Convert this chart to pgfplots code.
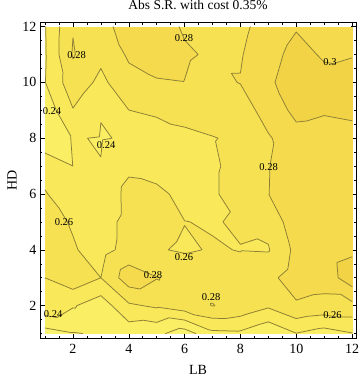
\documentclass[border=0pt]{standalone}
\usepackage{fontspec}
\setmainfont{Liberation Serif}
\usepackage{pgfplots}
\usepackage{pgfplotstable}
\pgfplotsset{compat=1.18}

% grid values: LB (x) 1..12, HD (y) 1..12
\pgfplotstableread{
x y z
1 1 0.2111
2 1 0.2190
3 1 0.2219
4 1 0.2278
5 1 0.2246
6 1 0.2100
7 1 0.2350
8 1 0.2362
9 1 0.2232
10 1 0.2395
11 1 0.2315
12 1 0.2390
1 2 0.2556
2 2 0.2418
3 2 0.2288
4 2 0.2569
5 2 0.2631
6 2 0.2720
7 2 0.2805
8 2 0.2746
9 2 0.2632
10 2 0.2777
11 2 0.2740
12 2 0.2745
1 3 0.2601
2 3 0.2730
3 3 0.2600
4 3 0.2914
5 3 0.2808
6 3 0.2740
7 3 0.2750
8 3 0.2658
9 3 0.2750
10 3 0.2893
11 3 0.2880
12 3 0.3120
1 4 0.2650
2 4 0.2615
3 4 0.2532
4 4 0.2665
5 4 0.2614
6 4 0.2580
7 4 0.2612
8 4 0.2595
9 4 0.2587
10 4 0.2853
11 4 0.2900
12 4 0.2960
1 5 0.2660
2 5 0.2585
3 5 0.2510
4 5 0.2665
5 5 0.2650
6 5 0.2603
7 5 0.2588
8 5 0.2620
9 5 0.2652
10 5 0.2931
11 5 0.2910
12 5 0.2930
1 6 0.2615
2 6 0.2465
3 6 0.2420
4 6 0.2670
5 6 0.2656
6 6 0.2532
7 6 0.2565
8 6 0.2717
9 6 0.2797
10 6 0.2900
11 6 0.2900
12 6 0.2920
1 7 0.2515
2 7 0.2401
3 7 0.2405
4 7 0.2555
5 7 0.2500
6 7 0.2540
7 7 0.2565
8 7 0.2682
9 7 0.2794
10 7 0.2900
11 7 0.2900
12 7 0.2910
1 8 0.2270
2 8 0.2411
3 8 0.2390
4 8 0.2415
5 8 0.2445
6 8 0.2547
7 8 0.2590
8 8 0.2640
9 8 0.2776
10 8 0.2945
11 8 0.2935
12 8 0.2950
1 9 0.2273
2 9 0.2590
3 9 0.2408
4 9 0.2598
5 9 0.2652
6 9 0.2680
7 9 0.2720
8 9 0.2674
9 9 0.2907
10 9 0.3040
11 9 0.3015
12 9 0.3030
1 10 0.2395
2 10 0.2720
3 10 0.2553
4 10 0.2737
5 10 0.2789
6 10 0.2798
7 10 0.2740
8 10 0.2808
9 10 0.2975
10 10 0.3080
11 10 0.3048
12 10 0.3037
1 11 0.2385
2 11 0.2815
3 11 0.2647
4 11 0.2827
5 11 0.2860
6 11 0.2816
7 11 0.2783
8 11 0.2784
9 11 0.2944
10 11 0.3050
11 11 0.2982
12 11 0.2995
1 12 0.2388
2 12 0.2790
3 12 0.2750
4 12 0.2864
5 12 0.2860
6 12 0.2785
7 12 0.2750
8 12 0.2746
9 12 0.2900
10 12 0.2988
11 12 0.2960
12 12 0.2950
}\grid

% contour lines from the same grid (two triangles per cell)
\newcommand\zval[2]{\csname zz@#1@#2\endcsname}
\pgfplotstablegetrowsof{\grid}
\pgfmathtruncatemacro\nlast{\pgfplotsretval-1}
\foreach \r in {0,...,\nlast}{%
  \pgfplotstablegetelem{\r}{x}\of\grid\let\gx\pgfplotsretval
  \pgfplotstablegetelem{\r}{y}\of\grid\let\gy\pgfplotsretval
  \pgfplotstablegetelem{\r}{z}\of\grid
  \pgfmathsetmacro\gz{\pgfplotsretval*10000}%
  \expandafter\xdef\csname zz@\gx @\gy\endcsname{\gz}%
}
\newcommand\cedge[4]{%
  \edef\pz{\zval{#1}{#2}}\edef\qz{\zval{#3}{#4}}%
  \ifdim\pz pt<\lev pt\def\csp{0}\else\def\csp{1}\fi
  \ifdim\qz pt<\lev pt\def\csq{0}\else\def\csq{1}\fi
  \ifx\csp\csq\else
    \pgfmathsetmacro\ct{(\lev-\pz)/(\qz-\pz)}%
    \pgfmathsetmacro\cpx{#1+\ct*(#3-#1)}%
    \pgfmathsetmacro\cpy{#2+\ct*(#4-#2)}%
    \edef\pts{\pts(\cpx,\cpy) }%
  \fi}
\gdef\clines{}
\foreach \lev in {2200,2400,2600,2800,3000}{%
  \foreach \ci in {1,...,11}{%
    \foreach \cj in {1,...,11}{%
      \pgfmathtruncatemacro\cii{\ci+1}%
      \pgfmathtruncatemacro\cjj{\cj+1}%
      \def\pts{}%
      \cedge{\ci}{\cj}{\cii}{\cj}\cedge{\cii}{\cj}{\ci}{\cjj}\cedge{\ci}{\cjj}{\ci}{\cj}%
      \ifx\pts\empty\else\xdef\clines{\clines\pts(nan,nan) }\fi
      \def\pts{}%
      \cedge{\cii}{\cj}{\cii}{\cjj}\cedge{\cii}{\cjj}{\ci}{\cjj}\cedge{\ci}{\cjj}{\cii}{\cj}%
      \ifx\pts\empty\else\xdef\clines{\clines\pts(nan,nan) }\fi
    }}}

\definecolor{ctrline}{RGB}{140,126,52}

\begin{document}
\begin{tikzpicture}
\useasboundingbox (-40bp,-41.7bp) rectangle (320bp,338.3bp);
\begin{axis}[
  at={(0,0)}, anchor=south west,
  scale only axis, width=316bp, height=315.6bp,
  xmin=0.82, xmax=12.14, ymin=0.83, ymax=12.14,
  xtick={2,4,...,12}, ytick={2,4,...,12},
  minor xtick={1,1.5,...,12}, minor ytick={1,1.5,...,12},
  tick align=inside, tick pos=both,
  major tick length=5bp, minor tick length=2.5bp,
  tick style={black, line width=0.5pt},
  axis line style={black, line width=0.7pt},
  /pgf/number format/assume math mode=true,
  tick label style={font=\fontsize{14bp}{16bp}\selectfont},
  xticklabel style={yshift=-2bp},
  colormap={ctr}{rgb255(0cm)=(250,243,112) rgb255(2cm)=(249,238,100)
    rgb255(4cm)=(248,232,90) rgb255(6cm)=(246,225,82) rgb255(8cm)=(244,218,76)
    rgb255(10cm)=(242,211,70) rgb255(12cm)=(242,211,70)},
  colormap access=piecewise constant,
  point meta min=0.20, point meta max=0.32,
]
\addplot[surf, shader=interp, mesh/cols=12, point meta=\thisrow{z}] table[x=x, y=y] {\grid};
\edef\tmp{\noexpand\addplot[color=ctrline, line width=0.75bp, line cap=round, unbounded coords=jump, mark=none] coordinates {\clines};}\tmp
\tikzset{clabel/.style={font=\fontsize{10.5bp}{12bp}\selectfont, inner sep=0pt}}
\node[clabel] at (axis cs:2.13,10.97) {0.28};
\node[clabel] at (axis cs:1.25,8.96) {0.24};
\node[clabel] at (axis cs:3.19,7.74) {0.24};
\node[clabel] at (axis cs:5.98,11.58) {0.28};
\node[clabel] at (axis cs:11.21,10.73) {0.3};
\node[clabel] at (axis cs:9.01,6.95) {0.28};
\node[clabel] at (axis cs:1.68,4.98) {0.26};
\node[clabel] at (axis cs:5.98,3.73) {0.26};
\node[clabel] at (axis cs:4.87,3.08) {0.28};
\node[clabel] at (axis cs:6.95,2.29) {0.28};
\node[clabel] at (axis cs:1.29,1.68) {0.24};
\node[clabel] at (axis cs:11.3,1.67) {0.26};
\end{axis}
\node[font=\fontsize{13.5bp}{16bp}\selectfont] at (158bp,333bp) {Abs S.R. with cost 0.35\%};
\node[font=\fontsize{14bp}{16bp}\selectfont, rotate=90] at (-28bp,157.8bp) {HD};
\node[font=\fontsize{14bp}{16bp}\selectfont] at (158bp,-32bp) {LB};
\end{tikzpicture}
\end{document}
